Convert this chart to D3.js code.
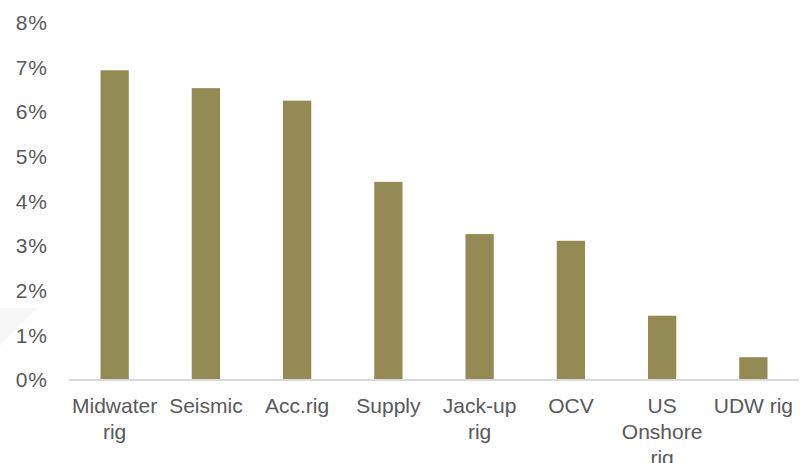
<!DOCTYPE html>
<html lang="en">
<head>
<meta charset="utf-8">
<title>Bar chart</title>
<script src="https://cdn.jsdelivr.net/npm/d3@7"></script>
<style>
  body { margin: 0; background: #fff; }
  text { font-family: "Liberation Sans", Arial, sans-serif; }
</style>
</head>
<body>
<script>
var categories = ["Midwater rig", "Seismic", "Acc.rig", "Supply", "Jack-up rig", "OCV", "US Onshore rig", "UDW rig"];
var values = [0.0694, 0.0654, 0.0626, 0.0444, 0.0327, 0.0312, 0.0144, 0.0051];
var yTicks = [0, 0.01, 0.02, 0.03, 0.04, 0.05, 0.06, 0.07, 0.08];

var w = 811, h = 463;
var margin = {top: 23, right: 12, bottom: 83, left: 69};
var barColor = "#948a54", textColor = "#595959", axisColor = "#d9d9d9";

var svg = d3.select("body").append("svg")
  .attr("width", w)
  .attr("height", h);

// faint watermark shape at left
svg.append("polygon")
  .attr("points", "0,308 38,308 0,346")
  .attr("fill", "#f7f7f7");

var x = d3.scaleBand()
  .domain(categories)
  .range([margin.left, w - margin.right])
  .paddingInner(0.69)
  .paddingOuter(0.345);

var y = d3.scaleLinear()
  .domain([0, 0.08])
  .range([h - margin.bottom, margin.top]);

// bars
svg.selectAll("rect.bar")
  .data(values)
  .enter()
  .append("rect")
  .attr("class", "bar")
  .attr("x", function(d, i) { return x(categories[i]); })
  .attr("y", function(d) { return y(d); })
  .attr("width", x.bandwidth())
  .attr("height", function(d) { return y(0) - y(d); })
  .attr("fill", barColor);

// y axis labels
var yAxis = d3.axisLeft(y)
  .tickValues(yTicks)
  .tickFormat(d3.format(".0%"))
  .tickSize(0)
  .tickPadding(21);

var gy = svg.append("g")
  .attr("transform", "translate(" + margin.left + ",0)")
  .call(yAxis);
gy.select(".domain").remove();
gy.selectAll("text")
  .attr("fill", textColor)
  .attr("font-size", "21px")
  .attr("letter-spacing", "1px")
  .attr("font-family", "Liberation Sans, Arial, sans-serif");

// x axis
var xAxis = d3.axisBottom(x).tickSize(0).tickPadding(0);
var gx = svg.append("g")
  .attr("transform", "translate(0," + y(0) + ")")
  .call(xAxis);
gx.select(".domain")
  .attr("d", "M" + margin.left + ",0H" + (w - margin.right))
  .attr("stroke", axisColor)
  .attr("stroke-width", 2);
gx.selectAll("text")
  .attr("fill", textColor)
  .attr("font-size", "21px")
  .attr("font-family", "Liberation Sans, Arial, sans-serif")
  .attr("dy", null)
  .attr("y", 33)
  .call(wrap, 92);

function wrap(text, width) {
  text.each(function() {
    var t = d3.select(this),
        words = t.text().split(/\s+/),
        line = [],
        lineNo = 0,
        lh = 26,
        tspan = t.text(null).append("tspan").attr("x", 0).attr("y", 33);
    words.forEach(function(word) {
      line.push(word);
      tspan.text(line.join(" "));
      if (tspan.node().getComputedTextLength() > width && line.length > 1) {
        line.pop();
        tspan.text(line.join(" "));
        line = [word];
        lineNo++;
        tspan = t.append("tspan").attr("x", 0).attr("y", 33 + lineNo * lh).text(word);
      }
    });
  });
}
</script>
</body>
</html>
